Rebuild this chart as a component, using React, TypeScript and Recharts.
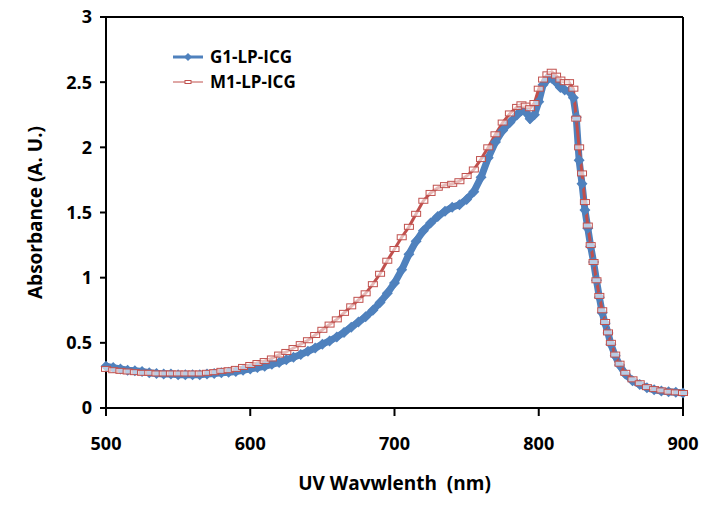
import {
  LineChart,
  Line,
  XAxis,
  YAxis,
  Legend,
  ReferenceLine,
} from 'recharts';

const wavelengths = [
  500, 505, 510, 515, 520, 525, 530, 535, 540, 545, 550, 555, 560, 565, 570, 575, 580, 585, 590, 595,
  600, 605, 610, 615, 620, 625, 630, 635, 640, 645, 650, 655, 660, 665, 670, 675, 680, 685, 690, 695,
  700, 705, 710, 715, 720, 725, 730, 735, 740, 745, 750, 755, 760, 765, 770, 775, 780, 785, 788, 791,
  794, 797, 800, 803, 806, 809, 812, 815, 818, 821, 824, 826, 828, 830, 832, 834, 836, 838, 840, 842,
  844, 846, 848, 850, 853, 856, 860, 865, 870, 875, 880, 885, 890, 895, 900,
];

const g1 = [
  0.32, 0.31, 0.3, 0.29, 0.285, 0.28, 0.27, 0.265, 0.26, 0.26, 0.255, 0.255, 0.255, 0.255, 0.26, 0.265, 0.27, 0.275, 0.28, 0.29,
  0.3, 0.31, 0.32, 0.335, 0.35, 0.37, 0.39, 0.41, 0.435, 0.46, 0.49, 0.515, 0.545, 0.58, 0.62, 0.66, 0.7, 0.75, 0.81, 0.88,
  0.96, 1.06, 1.18, 1.28, 1.36, 1.42, 1.47, 1.51, 1.54, 1.56, 1.6, 1.66, 1.77, 1.92, 2.04, 2.13, 2.19, 2.25, 2.28, 2.27,
  2.22, 2.25, 2.35, 2.48, 2.52, 2.53, 2.5, 2.46, 2.44, 2.43, 2.38, 2.23, 1.9, 1.72, 1.52, 1.38, 1.24, 1.12, 0.98, 0.85,
  0.73, 0.65, 0.575, 0.49, 0.4, 0.33, 0.26, 0.21, 0.18, 0.155, 0.14, 0.13, 0.125, 0.12, 0.115,
];

const m1 = [
  0.3, 0.29, 0.285, 0.28, 0.275, 0.27, 0.27, 0.265, 0.265, 0.265, 0.265, 0.265, 0.265, 0.265, 0.27, 0.275, 0.285, 0.29, 0.3, 0.315,
  0.33, 0.345, 0.36, 0.38, 0.41, 0.43, 0.46, 0.49, 0.52, 0.56, 0.6, 0.64, 0.68, 0.73, 0.78, 0.83, 0.88, 0.95, 1.03, 1.13,
  1.22, 1.31, 1.39, 1.49, 1.59, 1.65, 1.69, 1.71, 1.72, 1.74, 1.78, 1.83, 1.91, 2.0, 2.1, 2.19, 2.26, 2.31, 2.33, 2.32,
  2.3, 2.34, 2.45, 2.52, 2.56, 2.58, 2.55, 2.52, 2.5, 2.5, 2.45, 2.22, 2.0, 1.8, 1.58, 1.4, 1.25, 1.12, 0.98, 0.86,
  0.75, 0.66, 0.58, 0.5, 0.41, 0.34, 0.27, 0.22, 0.19, 0.16, 0.145, 0.135, 0.125, 0.12, 0.115,
];

const xTicks = [500, 600, 700, 800, 900];
const yTicks = [0, 0.5, 1, 1.5, 2, 2.5, 3];

const data = wavelengths.map((nm, i) => ({ nm, g1: g1[i], m1: m1[i] }));

const BLUE = '#4F81BD';
const RED = '#C0504D';
const FONT = '"Open Sans", "Noto Sans", sans-serif';

function Diamond(props: any) {
  const { cx, cy, index } = props;
  if (cx == null || cy == null) return <g key={`g-${index}`} />;
  return (
    <path
      key={`g-${index}`}
      d={`M${cx} ${cy - 5.5}L${cx + 5.5} ${cy}L${cx} ${cy + 5.5}L${cx - 5.5} ${cy}Z`}
      fill={BLUE}
    />
  );
}

function Dash(props: any) {
  const { cx, cy, index } = props;
  if (cx == null || cy == null) return <g key={`m-${index}`} />;
  return (
    <rect
      key={`m-${index}`}
      x={cx - 4.5}
      y={cy - 2.5}
      width={9}
      height={5}
      fill="#fff"
      fillOpacity={0.6}
      stroke={RED}
      strokeWidth={1}
    />
  );
}

function LegendBox() {
  const row = (label: string, color: string, blue: boolean) => (
    <div style={{ display: 'flex', alignItems: 'center', height: 25 }}>
      <svg width={42} height={20}>
        <line x1={5} y1={10} x2={35} y2={10} stroke={color} strokeWidth={blue ? 3 : 1} />
        {blue ? (
          <path d="M20 6L24 10L20 14L16 10Z" fill={BLUE} />
        ) : (
          <rect x={17} y={8.5} width={6} height={3} fill="#fff" stroke={RED} strokeWidth={1} />
        )}
      </svg>
      <span>{label}</span>
    </div>
  );
  return (
    <div style={{ fontFamily: FONT, fontWeight: 'bold', fontSize: 17, color: '#000' }}>
      {row('G1-LP-ICG', BLUE, true)}
      {row('M1-LP-ICG', RED, false)}
    </div>
  );
}

export default function App() {
  return (
    <div style={{ position: 'absolute', left: 0, top: 0, background: '#fff' }}>
      <LineChart
        width={708}
        height={514}
        data={data}
        margin={{ top: 17, right: 25, left: 0, bottom: 0 }}
      >
        <XAxis
          dataKey="nm"
          type="number"
          domain={[500, 900]}
          ticks={xTicks}
          height={106}
          tickSize={8}
          tickMargin={21}
          axisLine={{ stroke: '#000', strokeWidth: 2 }}
          tickLine={{ stroke: '#000', strokeWidth: 2 }}
          tick={{ fill: '#000', fontSize: 18, fontWeight: 'bold', fontFamily: FONT }}
          label={{
            value: 'UV Wavwlenth\u00a0\u00a0(nm)',
            position: 'insideBottom',
            offset: 24,
            style: { fill: '#000', fontSize: 19, fontWeight: 'bold', fontFamily: FONT },
          }}
        />
        <YAxis
          type="number"
          domain={[0, 3]}
          ticks={yTicks}
          width={106}
          tickSize={6}
          tickMargin={8}
          axisLine={{ stroke: '#000', strokeWidth: 2 }}
          tickLine={{ stroke: '#000', strokeWidth: 2 }}
          tick={{ fill: '#000', fontSize: 18, fontWeight: 'bold', fontFamily: FONT }}
          label={{
            value: 'Absorbance (A. U.)',
            angle: -90,
            position: 'insideLeft',
            offset: 35,
            style: { textAnchor: 'middle', fill: '#000', fontSize: 19, fontWeight: 'bold', fontFamily: FONT },
          }}
        />
        <ReferenceLine y={3} stroke="#000" strokeWidth={2} />
        <ReferenceLine x={900} stroke="#000" strokeWidth={2} />
        <Legend
          layout="vertical"
          align="center"
          verticalAlign="middle"
          wrapperStyle={{ left: 168, top: 44, width: 'auto', height: 'auto' }}
          content={() => <LegendBox />}
        />
        <Line
          type="linear"
          dataKey="g1"
          name="G1-LP-ICG"
          stroke={BLUE}
          strokeWidth={7}
          dot={Diamond}
          activeDot={false}
          isAnimationActive={false}
        />
        <Line
          type="linear"
          dataKey="m1"
          name="M1-LP-ICG"
          stroke={RED}
          strokeWidth={3}
          dot={Dash}
          activeDot={false}
          isAnimationActive={false}
        />
      </LineChart>
    </div>
  );
}
